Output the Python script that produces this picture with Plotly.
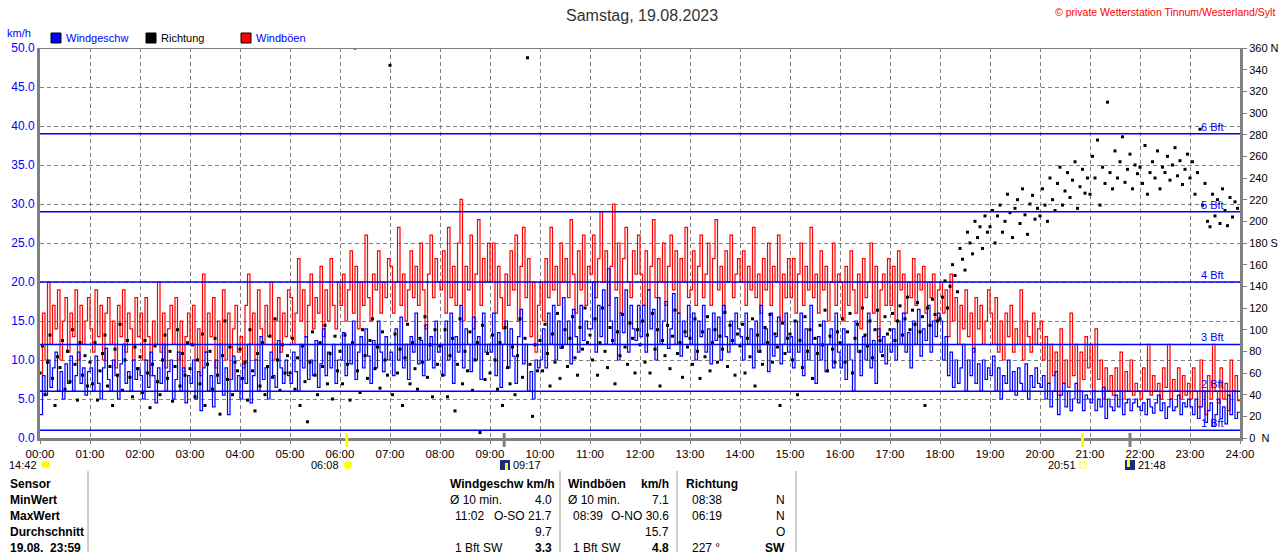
import plotly.graph_objects as go

TITLE = "Samstag, 19.08.2023"
STATION = "© private Wetterstation Tinnum/Westerland/Sylt"
STEP_MIN = 3  # ein Wert alle 3 Minuten, 20 Werte pro Stunde

# Windgeschwindigkeit (km/h), eine Zeile pro Stunde
wind_speed = [
    3, 8, 5.5, 10, 6.5, 9, 11, 6, 8.5, 5, 9.5, 7, 10.5, 6, 8, 11, 7, 9, 5.5, 8.5,
    9, 6, 10.5, 7, 5, 9, 11.5, 7.5, 6, 10, 8, 5, 9.5, 12, 7, 8.5, 6, 10, 7.5, 9,
    8, 5, 10, 6.5, 11, 8, 4.5, 9, 7, 12, 6, 8.5, 10, 5, 7.5, 11, 6, 9, 4.5, 8,
    7, 10, 5, 8.5, 3.5, 9, 11, 6, 8, 4, 10, 7, 12, 5.5, 9, 3, 7.5, 10.5, 6, 8,
    5, 9.5, 7, 12, 4.5, 8, 10, 6, 13, 7.5, 9, 5, 11, 8, 6.5, 12.5, 9, 7, 10, 8,
    7, 11, 8.5, 6, 12, 9, 13, 7.5, 10, 8, 12.5, 6.5, 9.5, 14, 8, 11, 9, 12, 7, 10,
    10, 13.5, 8, 12, 9.5, 15, 7.5, 11, 13, 9, 14, 10.5, 7, 12.5, 9, 15, 11, 8.5, 13, 10,
    11, 8, 14, 10, 15.5, 9, 12, 7.5, 13, 11, 16, 9.5, 12.5, 8, 14.5, 10, 13, 9, 15, 11,
    12, 8, 15, 10, 16, 7, 13, 11, 17, 9, 14, 12, 8.5, 15.5, 10, 13, 7.5, 16, 11, 12,
    11, 16, 8, 13.5, 6.5, 12, 15, 9, 14, 10.5, 7, 13, 16.5, 9.5, 12, 6, 8.5, 5, 10, 9,
    10, 14, 9, 16, 12, 17, 10, 15, 11.5, 18, 12, 15, 9.5, 16.5, 13, 11, 17, 12.5, 15, 14,
    14, 20, 11, 17, 13, 19, 12, 21.7, 15, 12, 18, 10, 16, 13.5, 19, 11, 17, 14, 12.5, 17,
    13, 17, 11, 19, 14, 16.5, 10, 18, 12, 15, 17.5, 11.5, 14, 18.5, 12, 16, 10.5, 15, 13, 17,
    12, 16, 10, 15, 13, 17, 11, 14, 9.5, 16, 12.5, 15.5, 10, 17, 13, 11, 15, 12, 16, 14,
    13, 10, 16, 12, 14, 9, 15, 11, 17, 12, 14, 8.5, 16, 10.5, 13, 15.5, 9.5, 12, 16, 11,
    13, 9, 15, 11, 16, 8, 14, 10, 17, 12, 7, 13, 10, 15, 8.5, 12, 14, 9, 16, 11,
    9, 14, 7.5, 12, 10, 6, 15, 11, 8, 13, 10, 16, 9, 12.5, 7, 14, 11, 13, 9.5, 12,
    11, 14, 10, 15, 12, 16, 11, 13.5, 9, 15, 12, 16.5, 10.5, 14, 12.5, 17, 11, 15, 13, 16,
    15, 10, 13, 8, 11, 6.5, 10, 7, 9, 12, 6, 10, 8, 11.5, 7, 9.5, 6, 10, 7.5, 9,
    8, 10.5, 6, 9, 5, 8, 7, 10, 6, 8.5, 5.5, 9, 7, 6, 9.5, 5, 8, 6.5, 9, 7,
    6.5, 8, 5, 7, 4, 6, 8.5, 3, 5.5, 7, 4, 6, 3.5, 5, 7, 4.5, 6, 3.5, 5.5, 5,
    4.5, 6, 3.5, 5, 4, 6.5, 2.5, 5, 4, 3.5, 5.5, 4, 6, 3, 4.5, 5, 3.5, 4.5, 5, 4,
    3.5, 4.5, 3, 5, 4, 3.2, 4.5, 5.5, 3.5, 4.5, 2.5, 4, 5, 3.5, 4, 5.5, 3, 4.5, 4, 5,
    4, 3, 5, 2.5, 4, 6, 2, 3.5, 4.5, 1.5, 3, 5, 2.5, 4, 1.8, 5.5, 3, 6, 2.5, 3.3,
]

# Windböen (km/h)
wind_gust = [
    6, 16, 10, 20, 12, 17, 14, 19, 10, 15, 18, 11, 16, 13, 19, 10, 17, 12, 15, 18,
    14, 11, 19, 13, 17, 10, 16, 18, 12, 15, 9, 17, 13, 19, 11, 16, 14, 10, 18, 13,
    16, 10, 18, 13, 8, 15, 12, 20, 11, 16, 9, 14, 17, 12, 18, 10, 15, 8.5, 13, 16,
    12, 17, 10, 14, 8, 21, 11, 16, 13, 18, 9, 15, 12, 19, 10, 16, 7.5, 14, 17, 11,
    13, 9, 17, 21, 12, 16, 10, 19, 14, 12, 17, 13, 20, 10, 15, 18, 11, 16, 13, 19,
    18, 12, 16, 23, 15, 19, 13, 17, 21, 14, 18, 16, 22, 13, 19, 15, 23, 17, 14, 20,
    17, 21, 15, 19, 24, 16, 22, 14, 20, 17, 26, 18, 15, 21, 19, 24, 16, 20, 18, 23,
    22, 16, 20, 27, 17, 21, 15, 19, 24, 18, 22, 17, 25, 19, 14, 21, 26, 18, 23, 20,
    19, 24, 16, 27, 18, 22, 17, 25, 30.6, 15, 22, 19, 26, 14, 21, 28, 17, 23, 20, 25,
    20, 25, 16, 22, 18, 14, 21, 17, 24, 19, 26, 15, 22, 27, 18, 23, 13, 20, 11, 17,
    20, 15, 23, 18, 27, 19, 22, 17, 25, 20, 23, 18, 28, 21, 16, 24, 19, 26, 17, 22,
    21, 26, 18, 23, 29, 20, 24, 17, 22, 30, 19, 25, 16, 23, 27, 20, 18, 24, 21, 26,
    21, 17, 24, 19, 22, 28, 18, 23, 20, 25, 17, 22, 26, 19, 24, 16, 23, 20, 27, 18,
    19, 24, 17, 22, 26, 18, 21, 25, 17, 23, 28, 19, 22, 16, 24, 20, 26, 18, 21, 23,
    20, 24, 17, 22, 19, 27, 18, 21, 16, 23, 19, 25, 17, 22, 20, 26, 15, 21, 18, 23,
    18, 23, 16, 21, 25, 17, 22, 19, 27, 18, 21, 16, 24, 19, 22, 15, 20, 25, 17, 21,
    20, 15, 22, 17, 24, 19, 16, 21, 14, 23, 18, 20, 25, 16, 22, 13, 19, 21, 17, 23,
    17, 22, 15, 24, 19, 21, 16, 20, 18, 23, 17, 21, 19, 22, 16, 20, 18, 21, 15, 19,
    20, 16, 19, 13, 21, 15, 18, 12, 17, 14, 19, 13, 16, 11, 18, 14, 17, 12, 15, 19,
    16, 12, 18, 11, 15, 10, 16, 13, 17, 11, 14, 12, 19, 10, 15, 13, 11, 16, 12, 14,
    15, 10, 13, 7, 12, 8, 11, 5.5, 14, 7, 10, 6.5, 16, 8, 12, 6, 11, 7.5, 13, 9,
    12, 6, 14, 7.5, 10, 5, 9, 6, 8, 5.5, 9, 6, 11, 5, 8.5, 6, 10, 5.5, 7, 6,
    5, 9, 6, 12, 5.5, 8, 6, 7, 5, 9, 6.5, 12, 5, 7.5, 6, 9, 5, 8, 5.5, 7,
    5, 9, 6, 4, 10, 6, 3, 8, 5, 12, 6, 4.5, 9, 5, 7, 3.5, 10, 6, 8, 4.8,
]

# Windrichtung (Grad)
wind_dir = [
    60, 85, 40, 70, 95, 55, 30, 75, 65, 90, 45, 80, 52, 100, 68, 35, 88, 58, 76, 48,
    70, 50, 88, 35, 62, 78, 95, 48, 66, 30, 82, 58, 105, 44, 72, 90, 56, 38, 84, 64,
    75, 42, 90, 60, 28, 68, 85, 52, 40, 72, 95, 55, 80, 34, 66, 100, 48, 78, 58, 88,
    64, 86, 38, 72, 50, 96, 30, 68, 80, 45, 92, 58, 22, 76, 108, 54, 84, 40, 70, 62,
    82, 55, 70, 35, 100, 62, 25, 78, 48, 88, 40, 66, 94, 56, 110, 72, 44, 86, 60, 76,
    60, 92, 45, 74, 30, 85, 52, 15, 70, 98, 58, 40, 88, 66, 104, 50, 78, 36, 94, 62,
    80, 50, 95, 68, 35, 88, 360, 62, 42, 100, 76, 55, 90, 110, 64, 84, 46, 98, 72, 58,
    344, 40, 96, 60, 82, 30, 74, 105, 50, 88, 64, 45, 92, 70, 112, 56, 86, 38, 100, 68,
    85, 58, 100, 38, 76, 92, 25, 68, 110, 50, 80, 62, 98, 44, 72, 88, 5, 104, 54, 78,
    60, 95, 72, 45, 88, 30, 102, 65, 50, 84, 40, 76, 110, 56, 92, 351, 68, 20, 86, 62,
    90, 62, 105, 78, 48, 96, 70, 115, 55, 84, 100, 66, 92, 112, 74, 58, 102, 82, 120, 88,
    95, 72, 110, 58, 88, 120, 80, 65, 102, 90, 50, 98, 76, 114, 84, 68, 106, 92, 60, 100,
    86, 108, 70, 95, 60, 115, 82, 100, 48, 90, 76, 104, 64, 94, 118, 78, 88, 56, 98, 84,
    92, 68, 110, 80, 55, 98, 75, 112, 62, 88, 100, 70, 94, 82, 116, 66, 104, 90, 58, 96,
    85, 105, 60, 92, 75, 110, 48, 95, 80, 68, 102, 88, 114, 70, 96, 84, 30, 106, 78, 92,
    96, 72, 108, 40, 90, 65, 112, 80, 100, 55, 92, 78, 104, 86, 118, 62, 94, 82, 70, 98,
    88, 110, 70, 98, 115, 60, 92, 105, 80, 120, 95, 85, 108, 74, 100, 118, 90, 76, 112, 96,
    100, 115, 90, 108, 122, 95, 110, 130, 100, 118, 105, 125, 98, 112, 30, 120, 104, 128, 114, 108,
    110, 130, 145, 120, 140, 160, 150, 135, 175, 165, 155, 190, 180, 170, 200, 185, 195, 175, 205, 190,
    195, 210, 180, 205, 215, 190, 200, 225, 208, 185, 212, 220, 198, 230, 206, 188, 216, 224, 202, 212,
    205, 230, 215, 200, 240, 220, 210, 235, 250, 215, 228, 245, 222, 238, 255, 212, 232, 248, 226, 240,
    225, 260, 240, 275, 215, 250, 235, 310, 245, 230, 265, 240, 255, 278, 236, 248, 262, 230, 252, 244,
    250, 235, 270, 225, 245, 255, 240, 265, 230, 250, 245, 260, 238, 252, 268, 242, 256, 234, 248, 262,
    240, 255, 225, 245, 285, 215, 235, 200, 195, 225, 205, 220, 198, 230, 210, 196, 222, 204, 218, 212,
]

bft_limits = [1, 6, 12, 20, 29, 39]
bft_labels = ["1 Bft", "2 Bft", "3 Bft", "4 Bft", "5 Bft", "6 Bft"]

hour_labels = [f"{h:02d}:00" for h in range(25)]
dir_ticks = list(range(0, 361, 20))
dir_names = {0: "0  N", 180: "180 S", 360: "360 N"}

# Sonne / Mond Zeiten unter der Achse
astro_times = [6 + 8 / 60, 9 + 17 / 60, 20 + 51 / 60, 21 + 48 / 60]
astro_labels = ["06:08", "09:17", "20:51", "21:48"]
astro_colors = ["#ffff00", "#808080", "#ffff00", "#808080"]

table_rows = ["Sensor", "MinWert", "MaxWert", "Durchschnitt", "19.08.  23:59"]
speed_col = [("Ø 10 min.", "4.0"), ("11:02", "O-SO 21.7"), ("", "9.7"), ("1 Bft SW", "3.3")]
gust_col = [("Ø 10 min.", "7.1"), ("08:39", "O-NO 30.6"), ("", "15.7"), ("1 Bft SW", "4.8")]
dir_col = [("08:38", "N"), ("06:19", "N"), ("", "O"), ("227 °", "SW")]

W, H = 1280, 552
L, R, T, B = 40, 40, 48, 114
FONT = "Liberation Sans"


def px(x):
    return (x - L) / (W - L - R)


def py(y):
    return (H - B - y) / (H - T - B)


def step_times(n):
    return [i * STEP_MIN / 60 for i in range(n)] + [24]


fig = go.Figure()
t = step_times(len(wind_speed))
fig.add_trace(go.Scatter(x=t, y=wind_gust + [wind_gust[-1]], mode="lines", line_shape="hv",
                         line=dict(color="#ff0000", width=1.2), name="Windböen"))
fig.add_trace(go.Scatter(x=t, y=wind_speed + [wind_speed[-1]], mode="lines", line_shape="hv",
                         line=dict(color="#0000ff", width=1.2), name="Windgeschw"))
fig.add_trace(go.Scatter(x=t[:-1], y=wind_dir, mode="markers", yaxis="y2",
                         marker=dict(symbol="square", size=3, color="#000000", line_width=0),
                         name="Richtung"))

shapes = []
annotations = []


def label(x, y, text, anchor="left", size=11, color="#000000", bold=False):
    if bold:
        text = f"<b>{text}</b>"
    annotations.append(dict(xref="paper", yref="paper", x=px(x), y=py(y), text=text, showarrow=False,
                            xanchor=anchor, yanchor="middle",
                            font=dict(family=FONT, size=size, color=color)))


def rect(x0, x1, y0, y1, fill, line=None):
    shapes.append(dict(type="rect", xref="paper", yref="paper", x0=px(x0), x1=px(x1),
                       y0=py(y1), y1=py(y0), fillcolor=fill,
                       line=line if line else dict(width=0)))


# Beaufort-Grenzen
for v, lab in zip(bft_limits, bft_labels):
    shapes.append(dict(type="line", xref="x", yref="y", x0=0, x1=24, y0=v, y1=v,
                       line=dict(color="#0000ff", width=1.5)))
    annotations.append(dict(xref="paper", yref="y", x=px(1226), y=v, text=lab, showarrow=False,
                            xanchor="right", yanchor="bottom", yshift=-1,
                            font=dict(family=FONT, size=11, color="#0000ff")))

# obere Rahmenlinie
shapes.append(dict(type="line", xref="x", yref="y", x0=0, x1=24, y0=50, y1=50,
                   line=dict(color="#808080", width=2)))

# Titel, Copyright, Einheit
label(642, 15, TITLE, "center", 16, "#333333")
label(1277, 12, STATION, "right", 10.5, "#ff0000")
label(5, 33, "km/h", "left", 11, "#0000ff")

# Legende
legend_items = [(51, "#0000ff", "Windgeschw", "#0000ff"), (146, "#000000", "Richtung", "#000000"),
                (241, "#ff0000", "Windböen", "#0000ff")]
for x0, col, lab, tcol in legend_items:
    rect(x0, x0 + 10, 33, 43, col, dict(color="#000000", width=1))
    label(x0 + 13, 38, lab, "left", 11, tcol)

# Sonnen- und Mondzeiten
for tt, col in zip(astro_times, astro_colors):
    shapes.append(dict(type="line", xref="x", yref="paper", x0=tt, x1=tt, y0=py(433), y1=py(447),
                       line=dict(color=col, width=3)))
label(39, 465, "14:42", "right")
shapes.append(dict(type="circle", xref="paper", yref="paper", x0=px(41), x1=px(50), y0=py(468), y1=py(461),
                   fillcolor="#ffff00", line_width=0))
label(341, 465, astro_labels[0], "right")
shapes.append(dict(type="circle", xref="paper", yref="paper", x0=px(344), x1=px(352), y0=py(469), y1=py(461),
                   fillcolor="#ffff00", line_width=0))
rect(500, 510, 460, 470, "#1a2a80")
rect(505, 508, 463, 470, "#ffff00")
label(511, 465, astro_labels[1], "left")
label(1078, 465, astro_labels[2], "right")
rect(1080, 1086, 462, 468, "#ffffff", dict(color="#ffff00", width=1))
rect(1125, 1135, 460, 470, "#1a2a80")
rect(1127, 1130, 460, 467, "#ffff00")
label(1136, 465, astro_labels[3], "left")

# Tabelle unten
row_y = [484, 500, 516, 532, 548]
for y, lab in zip(row_y, table_rows):
    label(8, y, lab, "left", 12, bold=True)
for xs in [88, 560, 677, 796]:
    shapes.append(dict(type="line", xref="paper", yref="paper", x0=px(xs), x1=px(xs), y0=py(471), y1=py(552),
                       line=dict(color="#a0a0a0", width=1)))

label(448, row_y[0], "Windgeschw km/h", "left", 12, bold=True)
label(566, row_y[0], "Windböen", "left", 12, bold=True)
label(671, row_y[0], "km/h", "right", 12, bold=True)
label(684, row_y[0], "Richtung", "left", 12, bold=True)
for i, y in enumerate(row_y[1:]):
    last = i == 3
    sl, sv = speed_col[i]
    gl, gv = gust_col[i]
    dl, dv = dir_col[i]
    label(448 if i == 0 else 453, y, sl, "left", 12)
    label(554, y, sv, "right", 12, bold=last)
    label(566 if i == 0 else 571, y, gl, "left", 12)
    label(671, y, gv, "right", 12, bold=last)
    label(690, y, dl, "left", 12)
    label(787, y, dv, "right", 12, bold=last)

fig.update_layout(
    width=W, height=H,
    margin=dict(l=L, r=R, t=T, b=B),
    plot_bgcolor="#ffffff", paper_bgcolor="#ffffff",
    showlegend=False,
    shapes=shapes,
    annotations=annotations,
    xaxis=dict(range=[0, 24], tickvals=list(range(25)), ticktext=hour_labels, automargin=False,
               showgrid=True, gridcolor="#808080", griddash="4px,3px", gridwidth=1,
               showline=True, linecolor="#808080", linewidth=3,
               ticks="outside", ticklen=3, tickcolor="#808080",
               tickfont=dict(family=FONT, size=11.5, color="#000000"), zeroline=False),
    yaxis=dict(range=[0, 50], dtick=5, tickformat=".1f", automargin=False,
               showgrid=True, gridcolor="#808080", griddash="4px,3px", gridwidth=1,
               showline=True, linecolor="#808080", linewidth=3, ticks="",
               tickfont=dict(family=FONT, size=12, color="#0000ff"), zeroline=False),
    yaxis2=dict(range=[0, 360], overlaying="y", side="right", tickvals=dir_ticks, automargin=False,
                ticktext=[dir_names.get(v, str(v)) for v in dir_ticks],
                showgrid=False, showline=True, linecolor="#808080", linewidth=3,
                ticks="outside", ticklen=4, tickcolor="#808080",
                tickfont=dict(family=FONT, size=11, color="#000000"), zeroline=False),
)

fig.write_html("out.html", config={"displayModeBar": False},
               post_script="document.body.style.margin='0';document.body.style.overflow='hidden';")
